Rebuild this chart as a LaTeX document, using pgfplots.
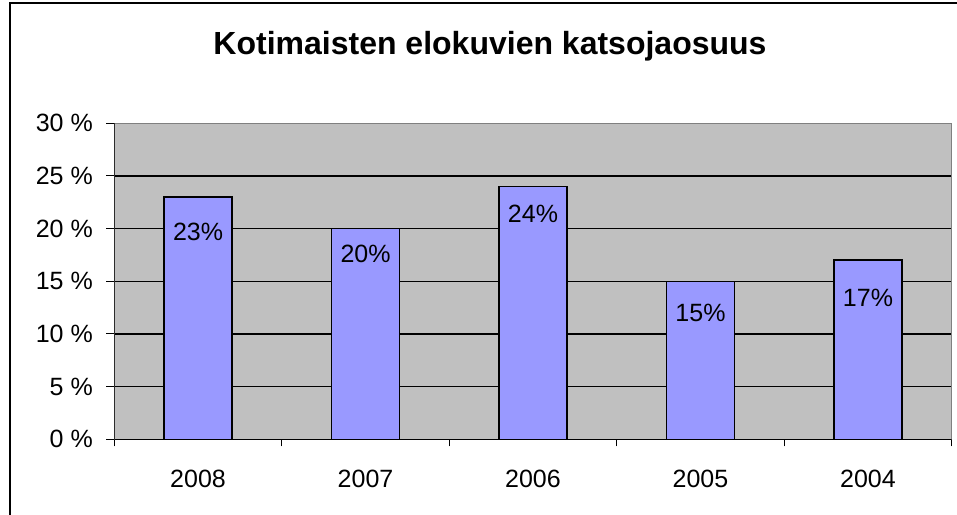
\documentclass[border=0pt]{standalone}
\usepackage{fontspec}
\setmainfont{Liberation Sans}
\usepackage{pgfplots}
\usepackage{pgfplotstable}
\pgfplotsset{compat=1.18}
\definecolor{plotbg}{HTML}{C0C0C0}
\definecolor{barfill}{HTML}{9999FF}
\pgfplotstableread{
x y dy
0 23 -21.4
1 20 -12.7
2 24 -14.4
3 15 -18.3
4 17 -24.7
}\datatable
\begin{document}
\begin{tikzpicture}
\path[use as bounding box] (0,0) rectangle (957pt,514pt);
\fill[white] (0,0) rectangle (957pt,514pt);
\draw[line width=2pt] (10pt,-5pt) -- (10pt,511pt) -- (962pt,511pt);
\node[anchor=base,font=\bfseries\fontsize{32}{38}\selectfont] at (490pt,459pt) {Kotimaisten elokuvien katsojaosuus};
\begin{axis}[
  at={(114.3pt,74.7pt)}, anchor=south west,
  width=837.4pt, height=316pt, scale only axis,
  xmin=-0.5, xmax=4.5, ymin=0, ymax=30,
  axis background/.style={fill=plotbg},
  axis line style={draw=gray, line width=1pt},
  ytick={0,5,...,30},
  yticklabels={0 \%,5 \%,10 \%,15 \%,20 \%,25 \%,30 \%},
  ymajorgrids, grid style={black, line width=1.2pt},
  xtick={0,1,2,3,4},
  xticklabels={2008,2007,2006,2005,2004},
  minor xtick={-0.5,0.5,1.5,2.5,3.5,4.5},
  major x tick style={draw=none},
  minor x tick style={black, line width=1pt},
  minor tick length=7pt,
  major y tick style={black, line width=1pt},
  major tick length=8pt,
  tick align=outside,
  xtick pos=bottom, ytick pos=left,
  /pgf/number format/assume math mode=true,
  tick label style={font=\fontsize{25}{30}\selectfont},
  yticklabel style={xshift=-10pt},
  xticklabel style={yshift=-19pt},
  ybar, bar width=67.7pt,
]
\addplot[fill=barfill, draw=black, line width=1.6pt,
  point meta=y,
  visualization depends on={\thisrow{dy} \as \dy},
  nodes near coords={\pgfmathprintnumber{\pgfplotspointmeta}\%},
  nodes near coords style={anchor=north, yshift=\dy pt, font=\fontsize{25}{30}\selectfont, black},
] table[x=x,y=y] {\datatable};
\draw[black, line width=1.2pt] (rel axis cs:0,1) -- (rel axis cs:0,0) -- (rel axis cs:1,0);
\end{axis}
\end{tikzpicture}
\end{document}
